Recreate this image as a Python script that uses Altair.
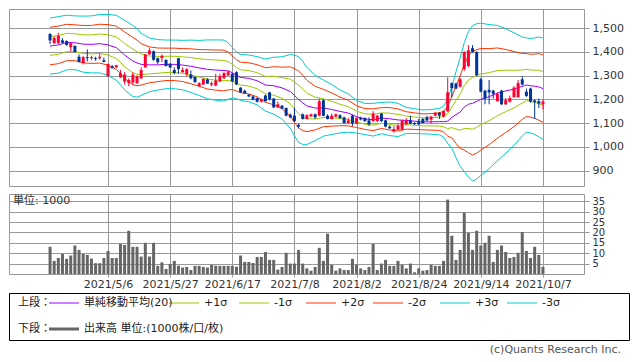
import altair as alt
import pandas as pd

# ---------------- data ----------------
OPEN = [1475, 1436, 1436, 1448, 1445, 1419, 1425, 1379, 1353, 1377,
        1373, 1373, 1373, 1364, 1297, 1339, 1334, 1292, 1275, 1268,
        1271, 1268, 1288, 1334, 1389, 1402, 1373, 1373, 1366, 1349,
        1323, 1373, 1314, 1305, 1304, 1294, 1255, 1262, 1284, 1262,
        1258, 1275, 1288, 1301, 1307, 1314, 1249, 1236, 1219, 1212,
        1205, 1190, 1216, 1229, 1203, 1166, 1173, 1163, 1135, 1131,
        1092, 1137, 1117, 1128, 1137, 1131, 1196, 1131, 1117, 1127,
        1133, 1124, 1100, 1131, 1098, 1121, 1121, 1111, 1108, 1108,
        1140, 1111, 1085, 1065, 1072, 1072, 1095, 1111, 1100, 1104,
        1117, 1124, 1114, 1131, 1143, 1127, 1150, 1268, 1266, 1253,
        1327, 1340, 1415, 1399, 1284, 1236, 1240, 1236, 1192, 1236,
        1179, 1190, 1209, 1209, 1284, 1232, 1245, 1195, 1192, 1179]
HIGH = [1478, 1465, 1480, 1457, 1448, 1438, 1426, 1389, 1383, 1410,
        1383, 1379, 1393, 1376, 1350, 1344, 1345, 1323, 1314, 1288,
        1314, 1300, 1334, 1390, 1415, 1406, 1376, 1389, 1368, 1352,
        1334, 1373, 1334, 1330, 1321, 1296, 1272, 1288, 1288, 1275,
        1307, 1307, 1314, 1323, 1310, 1318, 1251, 1240, 1222, 1216,
        1208, 1203, 1220, 1232, 1206, 1190, 1176, 1166, 1140, 1163,
        1098, 1140, 1137, 1139, 1140, 1203, 1199, 1137, 1140, 1140,
        1137, 1127, 1121, 1135, 1124, 1127, 1124, 1124, 1150, 1135,
        1142, 1114, 1090, 1088, 1098, 1114, 1121, 1131, 1104, 1117,
        1121, 1131, 1130, 1147, 1146, 1153, 1292, 1271, 1270, 1290,
        1402, 1428, 1428, 1402, 1290, 1240, 1281, 1240, 1229, 1240,
        1205, 1216, 1255, 1281, 1297, 1245, 1249, 1199, 1203, 1200]
LOW = [1432, 1434, 1433, 1436, 1426, 1402, 1398, 1355, 1347, 1360,
       1366, 1362, 1366, 1356, 1295, 1330, 1333, 1290, 1262, 1255,
       1262, 1264, 1285, 1333, 1388, 1362, 1349, 1357, 1338, 1332,
       1305, 1307, 1312, 1297, 1284, 1270, 1253, 1260, 1265, 1255,
       1255, 1272, 1286, 1298, 1272, 1260, 1227, 1223, 1209, 1196,
       1186, 1186, 1190, 1195, 1163, 1163, 1159, 1128, 1120, 1105,
       1078, 1115, 1115, 1126, 1117, 1128, 1128, 1115, 1115, 1124,
       1118, 1098, 1098, 1087, 1095, 1111, 1105, 1087, 1105, 1105,
       1105, 1082, 1075, 1059, 1070, 1070, 1092, 1095, 1092, 1092,
       1098, 1108, 1098, 1128, 1117, 1124, 1147, 1209, 1243, 1250,
       1320, 1335, 1395, 1298, 1229, 1179, 1179, 1203, 1190, 1176,
       1176, 1186, 1207, 1207, 1258, 1210, 1186, 1117, 1163, 1157]
CLOSE = [1448, 1458, 1467, 1438, 1428, 1436, 1399, 1357, 1377, 1373,
         1377, 1369, 1379, 1357, 1349, 1331, 1343, 1310, 1304, 1281,
         1304, 1297, 1323, 1389, 1406, 1366, 1356, 1383, 1340, 1334,
         1310, 1327, 1323, 1327, 1288, 1272, 1268, 1286, 1266, 1268,
         1279, 1297, 1310, 1314, 1275, 1262, 1229, 1225, 1212, 1199,
         1190, 1199, 1192, 1199, 1166, 1179, 1161, 1131, 1124, 1108,
         1085, 1117, 1133, 1137, 1124, 1192, 1131, 1117, 1131, 1137,
         1121, 1100, 1111, 1098, 1121, 1115, 1108, 1095, 1140, 1131,
         1108, 1085, 1078, 1075, 1087, 1111, 1111, 1098, 1095, 1095,
         1100, 1111, 1127, 1143, 1131, 1150, 1229, 1247, 1245, 1284,
         1399, 1406, 1399, 1301, 1232, 1203, 1229, 1223, 1222, 1179,
         1196, 1205, 1249, 1268, 1262, 1214, 1190, 1188, 1182, 1190]
VOLUME = [13.1, 6.3, 7.7, 9.7, 7.3, 8.9, 13.7, 11.6, 9.7, 9.2,
          7.4, 5.2, 5.2, 7.7, 11.1, 7.7, 7.7, 14.5, 14.0, 20.8,
          13.1, 13.1, 8.4, 15.0, 8.4, 15.0, 3.9, 5.6, 2.4, 4.8,
          6.3, 4.0, 3.1, 3.4, 1.9, 3.9, 3.9, 3.4, 3.1, 4.4,
          4.0, 3.9, 3.9, 3.9, 3.9, 3.5, 8.9, 5.8, 5.8, 5.3,
          8.2, 8.2, 10.6, 6.8, 6.8, 2.1, 3.4, 10.2, 5.0, 5.0,
          11.6, 5.0, 2.7, 1.6, 3.4, 12.6, 6.3, 19.4, 4.4, 1.6,
          2.7, 1.9, 1.9, 7.3, 4.5, 2.7, 1.9, 3.4, 14.5, 1.9,
          5.0, 6.8, 3.9, 3.9, 6.3, 4.4, 2.7, 5.0, 0.8, 2.7,
          1.6, 1.9, 4.4, 3.9, 3.9, 6.3, 35.8, 18.4, 6.8, 11.6,
          29.5, 19.8, 11.6, 20.8, 13.7, 15.0, 18.4, 5.8, 11.6, 13.7,
          10.6, 7.7, 8.2, 10.2, 20.2, 11.1, 7.7, 13.1, 9.2, 3.4]

# Bollinger band: 20-day moving average and its standard deviation, read at these trading days
BAND_IDX = [0, 2, 4, 6, 8, 10, 12, 14, 16, 17, 18, 20, 21, 22, 24, 26, 28, 30,
            32, 34, 36, 38, 40, 42, 43, 44, 45, 46, 48, 50, 52, 54, 56, 58, 59,
            60, 61, 62, 64, 66, 68, 70, 72, 74, 76, 78, 80, 82, 84, 86, 88, 90,
            92, 94, 95, 96, 97, 98, 99, 100, 101, 102, 103, 104, 106, 108, 110,
            112, 114, 115, 116, 117, 118, 119]
BAND_MA = [1424, 1429, 1439, 1438, 1432, 1431, 1434, 1429, 1417, 1402, 1386,
           1361, 1353, 1347, 1345, 1345, 1347, 1347, 1344, 1339, 1332, 1326,
           1323, 1321, 1319, 1312, 1301, 1292, 1288, 1278, 1260, 1257, 1248,
           1233, 1216, 1199, 1185, 1172, 1163, 1163, 1157, 1149, 1142, 1127,
           1117, 1114, 1121, 1118, 1113, 1111, 1108, 1105, 1105, 1106, 1106,
           1108, 1124, 1135, 1146, 1167, 1179, 1183, 1191, 1200, 1211, 1226,
           1235, 1243, 1254, 1260, 1257, 1255, 1252, 1245]
BAND_SIGMA = [39.3, 39.6, 38.3, 37.7, 39.3, 40.0, 40.9, 42.6, 45.5, 46.9, 48.9,
              49.8, 48.1, 43.6, 37.7, 35.4, 34.1, 34.1, 34.7, 36.7, 38.6, 41.3,
              42.3, 42.8, 39.7, 35.6, 32.8, 32.1, 32.8, 33.8, 36.4, 40.0, 43.6,
              51.7, 56.7, 60.0, 58.3, 54.0, 45.9, 39.3, 35.0, 30.1, 26.9, 22.9,
              21.9, 22.9, 21.9, 23.6, 23.3, 18.3, 17.4, 16.8, 17.3, 18.6, 21.8,
              31.4, 43.2, 60.3, 76.0, 90.4, 102.0, 109.0, 109.0, 106.8, 101.1,
              95.0, 87.4, 79.0, 69.4, 66.2, 66.2, 67.7, 70.1, 71.0]

TICK_IDX = [14, 29, 44, 59, 74, 89, 104, 119]
TICK_LABELS = ["2021/5/6", "2021/5/27", "2021/6/17", "2021/7/8",
               "2021/8/2", "2021/8/24", "2021/9/14", "2021/10/7"]
PRICE_TICKS = [900, 1000, 1100, 1200, 1300, 1400, 1500]
VOLUME_TICKS = [5, 10, 15, 20, 25, 30, 35]
BAND_NAMES = ["ma", "p1", "m1", "p2", "m2", "p3", "m3"]
BAND_K = [0, 1, -1, 2, -2, 3, -3]
LEGEND_LABELS = ["単純移動平均(20)", "+1σ", "-1σ", "+2σ", "-2σ", "+3σ", "-3σ"]
UPPER_LABEL = "上段："
LOWER_LABEL = "下段："
VOLUME_LABEL = "出来高 単位:(1000株/口/枚)"
UNIT_LABEL = "単位: 1000"
COPYRIGHT = "(c)Quants Research Inc."

# ---------------- styles ----------------
FONT = "DejaVu Sans, Noto Sans CJK JP"
RED = "#ff0033"
BLUE = "#003399"
PURPLE = "#9900ff"
GREEN = "#99cc00"
ORANGE = "#ff3300"
CYAN = "#00cccc"
GRID = "#999999"
BAND_COLORS = [PURPLE, GREEN, GREEN, ORANGE, ORANGE, CYAN, CYAN]

W = 575
H_PRICE = 177
H_VOL = 80
W_LEG = 620
H_LEG = 47

# ---------------- tables ----------------
df = pd.DataFrame({"i": range(len(OPEN)), "open": OPEN, "high": HIGH,
                   "low": LOW, "close": CLOSE, "volume": VOLUME})
df["dir"] = ["up" if c >= o else "down" for o, c in zip(OPEN, CLOSE)]
df["body_lo"] = df[["open", "close"]].min(axis=1)
df["body_hi"] = df[["open", "close"]].max(axis=1)

rows = []
for idx, m, s in zip(BAND_IDX, BAND_MA, BAND_SIGMA):
    for name, k in zip(BAND_NAMES, BAND_K):
        rows.append({"i": idx, "band": name, "value": m + k * s})
bands = pd.DataFrame(rows)

color_scale = alt.Scale(domain=["up", "down"] + BAND_NAMES,
                        range=[RED, BLUE] + BAND_COLORS)
x_scale = alt.Scale(domain=[-8.7, 127.7], nice=False, zero=False)
y_scale = alt.Scale(domain=[835, 1580], nice=False, zero=False)

label_expr = " : ".join(f"datum.value == {v} ? '{t}'" for v, t in zip(TICK_IDX, TICK_LABELS)) + " : ''"

x_grid_axis = alt.Axis(values=TICK_IDX, labels=False, ticks=False, domain=False,
                       title=None, grid=True)
price_axis = alt.Axis(orient="right", values=PRICE_TICKS, format=",d", title=None,
                      grid=True, tickSize=5, labelPadding=3, labelOverlap=False)

# ---------------- price panel ----------------
band_lines = alt.Chart(bands).mark_line(strokeWidth=1).encode(
    x=alt.X("i:Q", scale=x_scale, axis=x_grid_axis),
    y=alt.Y("value:Q", scale=y_scale, axis=price_axis),
    color=alt.Color("band:N", scale=color_scale, legend=None),
    detail="band:N",
)
wicks = alt.Chart(df).mark_rule(strokeWidth=1).encode(
    x=alt.X("i:Q", scale=x_scale, axis=x_grid_axis),
    y=alt.Y("low:Q", scale=y_scale, axis=price_axis),
    y2="high:Q",
    color=alt.Color("dir:N", scale=color_scale, legend=None),
)
bodies = alt.Chart(df).mark_bar(size=3).encode(
    x=alt.X("i:Q", scale=x_scale, axis=x_grid_axis),
    y=alt.Y("body_lo:Q", scale=y_scale, axis=price_axis),
    y2="body_hi:Q",
    color=alt.Color("dir:N", scale=color_scale, legend=None),
)
price = alt.layer(band_lines, wicks, bodies).properties(width=W, height=H_PRICE)

# ---------------- volume panel ----------------
vol_bars = alt.Chart(df).mark_bar(size=3, color="#666666").encode(
    x=alt.X("i:Q", scale=x_scale,
            axis=alt.Axis(values=TICK_IDX, labelExpr=label_expr, grid=True,
                          tickSize=3, labelPadding=1, title=None,
                          labelFlush=False, labelOverlap=False)),
    y=alt.Y("volume:Q", scale=alt.Scale(domain=[0, 38.5], nice=False),
            axis=alt.Axis(orient="right", values=VOLUME_TICKS, grid=True,
                          tickSize=5, labelPadding=3, title=None,
                          labelFontSize=10, labelOverlap=False, labelFlush=False)),
)
unit_text = alt.Chart(pd.DataFrame({"t": [UNIT_LABEL]})).mark_text(
    align="left", baseline="middle", fontSize=11, color="#333333"
).encode(x=alt.value(4), y=alt.value(7), text="t:N")
volume = alt.layer(vol_bars, unit_text).properties(width=W, height=H_VOL)

# ---------------- legend box ----------------
ROW1, ROW2 = 10, 36
LINE_X = [40, 160, 230, 297, 364, 431, 498]
legend_lines = pd.DataFrame({
    "x": LINE_X,
    "x2": [x + 30 for x in LINE_X],
    "y": [ROW1] * 7,
    "c": BAND_COLORS,
})
legend_texts = pd.DataFrame({
    "x": [9, 9] + [x + 35 for x in LINE_X] + [75],
    "y": [ROW1, ROW2] + [ROW1] * 7 + [ROW2],
    "t": [UPPER_LABEL, LOWER_LABEL] + LEGEND_LABELS + [VOLUME_LABEL],
})
leg_rules = alt.Chart(legend_lines).mark_rule(strokeWidth=1).encode(
    x=alt.X("x:Q", scale=None), x2="x2:Q", y=alt.Y("y:Q", scale=None),
    color=alt.Color("c:N", scale=None),
)
leg_vol = alt.Chart(pd.DataFrame({"x": [40], "x2": [70], "y": [ROW2]})).mark_rule(
    strokeWidth=3, color="#666666"
).encode(x=alt.X("x:Q", scale=None), x2="x2:Q", y=alt.Y("y:Q", scale=None))
leg_text = alt.Chart(legend_texts).mark_text(
    align="left", baseline="middle", fontSize=11, color="#222222"
).encode(x=alt.X("x:Q", scale=None), y=alt.Y("y:Q", scale=None), text="t:N")
copy_text = alt.Chart(pd.DataFrame({"t": [COPYRIGHT]})).mark_text(
    align="right", baseline="middle", fontSize=11, color="#555555"
).encode(x=alt.value(612), y=alt.value(H_LEG + 10), text="t:N")
legend = alt.layer(leg_rules, leg_vol, leg_text, copy_text).properties(
    width=W_LEG, height=H_LEG,
    view=alt.ViewBackground(stroke="#000000", strokeWidth=1),
)

top = alt.vconcat(price, volume, spacing=6)
chart = alt.vconcat(top, legend, spacing=2).properties(padding=0).configure(
    font=FONT
).configure_view(
    stroke=GRID, strokeWidth=1
).configure_axis(
    labelFont=FONT, labelFontSize=11, labelColor="#333333",
    gridColor=GRID, gridOpacity=1, gridWidth=1, tickColor=GRID, domain=False,
)

chart.save("out.html", embed_options={"renderer": "svg", "actions": False})
